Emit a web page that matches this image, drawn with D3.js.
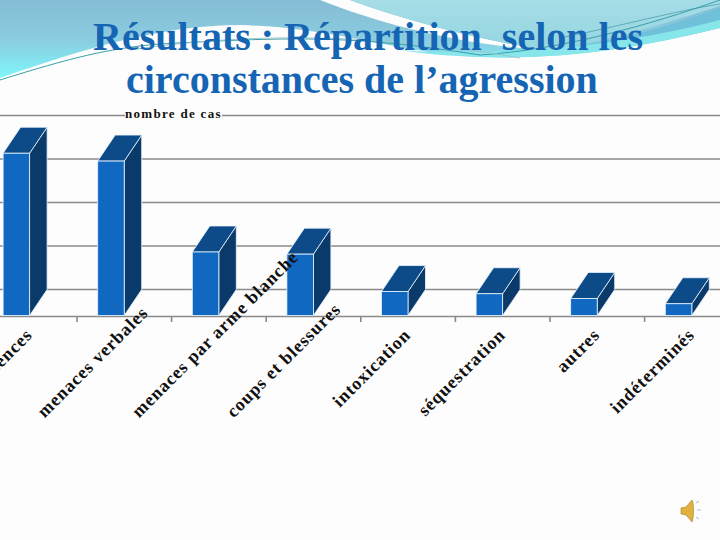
<!DOCTYPE html>
<html><head><meta charset="utf-8"><style>
html,body{margin:0;padding:0;background:#fdfdfd}svg{display:block}
</style></head><body><svg id="c" width="720" height="540"></svg>
<script src="https://cdn.jsdelivr.net/npm/d3@7/dist/d3.min.js"></script>
<script>
const categories=["violences","menaces verbales","menaces par arme blanche","coups et blessures","intoxication","séquestration","autres","indéterminés"];
const values=[37.3,35.5,14.6,14.1,5.5,5,3.9,2.7];
const yTicks=[0,10,20,30,40];
const titleLines=["Résultats : Répartition  selon les","circonstances de l’agression"];
const axisTitle="nombre de cas";

const svg=d3.select("#c");
const defs=svg.append("defs");
const g1=defs.append("linearGradient").attr("id","sky").attr("gradientUnits","userSpaceOnUse").attr("x1",0).attr("x2",0).attr("y1",0).attr("y2",78);
g1.append("stop").attr("offset",0).attr("stop-color","#85bcd5");
g1.append("stop").attr("offset",0.5).attr("stop-color","#8accdf");
g1.append("stop").attr("offset",1).attr("stop-color","#7ff6fa");
const g2=defs.append("linearGradient").attr("id","light").attr("gradientUnits","userSpaceOnUse").attr("x1",0).attr("x2",0).attr("y1",0).attr("y2",60);
g2.append("stop").attr("offset",0).attr("stop-color","#a6dde6");
g2.append("stop").attr("offset",1).attr("stop-color","#90d4e0");

svg.append("path").attr("fill","url(#sky)").attr("d","M0,0H720V28C640,48 560,60 480,57C400,54 340,28 240,25C160,25 80,50 0,78Z");
svg.append("path").attr("fill","#fdfdfd").attr("d","M320,0H350C410,22 480,40 545,50C470,46 385,26 320,0Z");
svg.append("path").attr("fill","url(#light)").attr("d","M350,0H720V6C650,28 600,44 545,50C480,40 410,22 350,0Z");
svg.append("path").attr("fill","#6fc0d8").attr("d","M540,50C610,44 670,26 720,8V20C660,38 610,48 540,50Z");
svg.append("path").attr("fill","#86e6ea").attr("d","M400,50C470,56 600,52 720,20V28C640,48 560,60 480,57C450,56 425,54 400,50Z");
svg.append("path").attr("fill","none").attr("stroke","#3aa0a8").attr("stroke-width",1).attr("d","M0,80C70,58 110,48 160,44C300,36 360,36 480,55C560,50 650,25 720,0");
svg.append("path").attr("fill","none").attr("stroke","#9cc8cc").attr("stroke-width",1).attr("d","M130,50C260,30 400,36 520,58");
svg.append("path").attr("fill","none").attr("stroke","#3d9aa8").attr("stroke-width",.7).attr("d","M560,38C620,26 680,10 720,4");

const depthX=17.5,depthY=26,base=315.5,unit=4.35,barW=26.5;
const x=d3.scaleBand().domain(categories).range([-17.6,739.2]);
const y=d3.scaleLinear().domain([0,50]).range([base,base-50*unit]);
const barLeft=d=>x(d)+20.7;
const val=d=>values[categories.indexOf(d)];

svg.append("g").selectAll("line").data(yTicks).join("line")
  .attr("x1",0).attr("x2",720).attr("y1",d=>y(d)-depthY).attr("y2",d=>y(d)-depthY)
  .attr("stroke","#8a8a8a").attr("stroke-width",1.6);
svg.append("line").attr("x1",0).attr("x2",720).attr("y1",316.5).attr("y2",316.5).attr("stroke","#8a8a8a").attr("stroke-width",1.6);
svg.append("g").selectAll("line").data(categories.slice(1)).join("line")
  .attr("x1",d=>x(d)).attr("x2",d=>x(d)).attr("y1",316.5).attr("y2",322).attr("stroke","#8a8a8a").attr("stroke-width",1.6);

const bar=svg.append("g").selectAll("g").data(categories).join("g")
  .attr("transform",d=>`translate(${barLeft(d)},0)`);
bar.append("path").attr("fill","#0a3a6a").attr("stroke","#e8f4ff").attr("stroke-width",.8)
  .attr("d",d=>`M${barW},${y(val(d))}l${depthX},${-depthY}V${base-depthY}L${barW},${base}Z`);
bar.append("path").attr("fill","#0d4a88").attr("stroke","#e8f4ff").attr("stroke-width",.8)
  .attr("d",d=>`M0,${y(val(d))}l${depthX},${-depthY}h${barW}l${-depthX},${depthY}Z`);
bar.append("rect").attr("fill","#1168c0").attr("stroke","#e8f4ff").attr("stroke-width",.8)
  .attr("width",barW).attr("y",d=>y(val(d))).attr("height",d=>base-y(val(d)));

const ang=45, s=Math.sin(ang*Math.PI/180);
svg.append("g").selectAll("text").data(categories).join("text")
  .attr("font-family","'Liberation Serif'").attr("font-weight","bold")
  .attr("font-size",18).attr("letter-spacing",.9).attr("fill","#111").text(d=>d)
  .each(function(d){
    const L=this.getComputedTextLength(), c=barLeft(d)+barW/2, t=d3.select(this);
    if(L*s>95){ t.attr("text-anchor","start").attr("transform",`translate(${c-66.5},418.5) rotate(-${ang})`); }
    else { t.attr("text-anchor","end").attr("transform",`translate(${c+17},336) rotate(-${ang})`); }
  });
const at=svg.append("text").attr("x",125).attr("y",117.5).attr("font-family","'Liberation Serif'").attr("font-weight","bold")
  .attr("font-size",13).attr("letter-spacing",1.3).attr("fill","#111").text(axisTitle);
const bb=at.node().getBBox();
svg.append("rect").attr("x",bb.x).attr("y",bb.y).attr("width",bb.width).attr("height",bb.height).attr("fill","#fdfdfd");
at.raise();

svg.append("g").selectAll("text").data(titleLines).join("text")
  .attr("x",(d,i)=>i?126:93).attr("y",(d,i)=>i?92.5:49.5)
  .style("white-space","pre")
  .attr("font-family","'Liberation Serif'").attr("font-weight","bold").attr("font-size",40)
  .attr("fill","#1565b4").text(d=>d);

const sp=svg.append("g").attr("transform","translate(681,505)");
sp.append("path").attr("d","M0,3L5,2L11,-5C13,-2 13,13 11,17L5,10L0,9Z").attr("fill","#e0b040").attr("stroke","#a87c20").attr("stroke-width",.6);
sp.append("path").attr("d","M15,-2l3,-2M16,5h4M15,12l3,2").attr("stroke","#8fa4d8").attr("stroke-width",.8).attr("fill","none");
</script></body></html>
